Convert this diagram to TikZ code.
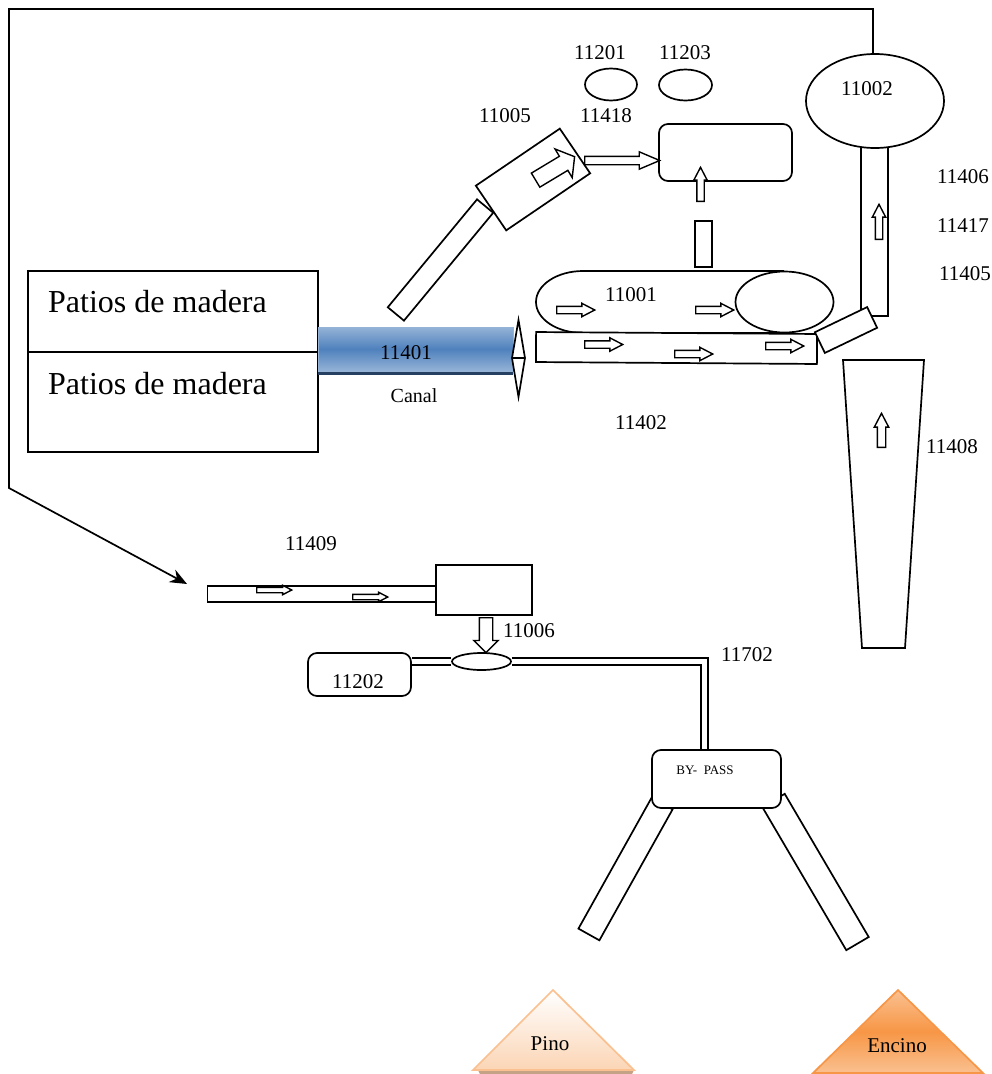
\documentclass[tikz,border=0pt]{standalone}
\usepackage{fontspec}
\setmainfont{Liberation Serif}
\usepackage{xcolor}
\usetikzlibrary{arrows.meta,positioning,shapes,calc}
\definecolor{ink}{HTML}{000000}
\definecolor{canalmid}{HTML}{4F81BD}
\definecolor{canalpale}{HTML}{95B3D7}
\definecolor{canaldark}{HTML}{254061}
\definecolor{pinoline}{HTML}{FAC090}
\definecolor{pinolow}{HTML}{FBD5B5}
\definecolor{pinoshadow}{HTML}{C4A285}
\definecolor{encinomid}{HTML}{F79646}
\tikzset{
  unitbox/.style={
    draw=ink, fill=white, line width=1.7pt, rectangle,
    inner sep=0pt
  },
  roundbox/.style={
    unitbox, rounded corners=9pt
  },
  vessel/.style={
    draw=ink, fill=white, line width=1.7pt, ellipse,
    inner sep=0pt
  },
  flowarrow/.style={
    single arrow, draw=ink, fill=white, line width=1.4pt, anchor=tail,
    inner xsep=0pt, inner ysep=3pt, minimum height=38pt,
    single arrow head extend=3pt, single arrow tip angle=55
  },
  tag/.style={
    inner sep=0pt, font=\fontsize{21}{25}\selectfont
  },
  yardtag/.style={
    inner sep=0pt, anchor=west, font=\fontsize{32}{38}\selectfont
  },
  pipeline/.style={
    draw=ink, line width=1.7pt, double=white, double distance=5pt
  }
}
\begin{document}
\begin{tikzpicture}[x=1pt,y=-1pt]
  \useasboundingbox (0,0) rectangle (992,1074);
  % yards and canal
  \node[unitbox,minimum width=290pt,minimum height=81pt] (yardtop) at (173,311.5) {};
  \node[unitbox,minimum width=290pt,minimum height=100pt] (yardlow) at (173,402) {};
  \node[yardtag] at (48,301.5) {Patios de madera};
  \node[yardtag] at (48,384) {Patios de madera};
  \fill[canaldark] (318,360) rectangle (513,375);
  \node[rectangle,inner sep=0pt,minimum width=195pt,minimum height=44pt,draw=canalpale,line width=1pt,
    top color=canalpale,bottom color=canalpale,middle color=canalmid] (canal) at (415.5,349) {};
  \node[tag] at (406,353) {11401};
  \node[tag,font=\fontsize{20}{24}\selectfont] at (414,396) {Canal};
  \draw[unitbox] (518.5,320) -- (525,358) -- (518.5,397) -- (512,358) -- cycle;
  \draw[ink,line width=1.2pt] (512,358) -- (525,358);
  % first conveyor and top box
  \node[unitbox,minimum width=140pt,minimum height=21pt,rotate=50.4] (feedbelt) at (440.5,260) {};
  \node[unitbox,minimum width=101.5pt,minimum height=54pt,rotate=34.2] (chipper) at (533,179.5) {};
  \node[flowarrow,inner ysep=7.5pt,minimum height=45.5pt,single arrow head extend=8.5pt,single arrow tip angle=105,rotate=31] (chiparrow) at (535,180.5) {};
  \node[roundbox,minimum width=133pt,minimum height=57pt] (tank) at (725.5,152.5) {};
  \node[flowarrow,inner ysep=3.5pt,minimum height=75pt,single arrow head extend=4.5pt,single arrow tip angle=46] (tankfeed) at (584,160.5) {};
  \node[flowarrow,minimum height=34pt,rotate=90] (tankrise) at (700.5,202) {};
  \node[unitbox,minimum width=17pt,minimum height=46pt] (risetube) at (703.5,244) {};
  \node[vessel,minimum width=52pt,minimum height=32pt] (v11201) at (611,84.5) {};
  \node[vessel,minimum width=53pt,minimum height=31pt] (v11203) at (685.5,85) {};
  % washer line
  \draw[ink,fill=white,line width=1.7pt] (784,271) -- (583,271)
    arc[start angle=90,end angle=270,x radius=47pt,y radius=31pt] -- (784,333);
  \node[vessel,minimum width=98pt,minimum height=61pt] (drum) at (784.5,302) {};
  \node[unitbox,minimum width=281pt,minimum height=30pt,rotate=-0.4] (lowbelt) at (676.5,348) {};
  \node[flowarrow] at (556,310) {};
  \node[flowarrow] at (695,310) {};
  \node[flowarrow] at (584,344.5) {};
  \node[flowarrow] at (674,354) {};
  \node[flowarrow] at (765,346) {};
  % right side
  \node[unitbox,minimum width=27pt,minimum height=170pt] (uptube) at (874.5,231) {};
  \node[vessel,minimum width=138pt,minimum height=94pt] (bin) at (875,101) {};
  \node[unitbox,minimum width=58pt,minimum height=23pt,rotate=25.7] (transfer) at (846,330) {};
  \node[flowarrow,minimum height=35pt,rotate=90] at (879,240) {};
  \draw[ink,line width=1.7pt] (843,360) -- (924,360) -- (905,648) -- (862,648) -- cycle;
  \node[flowarrow,minimum height=34pt,inner ysep=3.5pt,rotate=90] at (881.5,448) {};
  % return line
  \coordinate (returnend) at (187,584);
  \draw[ink,line width=1.7pt,-{Stealth[length=17pt,width=14pt]}] (873,54) -- (873,9) -- (9,9) -- (9,488) -- (returnend);
  % lower train
  \node[unitbox,minimum width=229pt,minimum height=16pt] (lowfeed) at (322,594) {};
  \node[unitbox,minimum width=96pt,minimum height=50pt] (press) at (484,590) {};
  \node[flowarrow,inner ysep=2pt,minimum height=35pt,single arrow head extend=2pt] at (256,590) {};
  \node[flowarrow,inner ysep=2pt,minimum height=35pt,single arrow head extend=2pt] at (352,597) {};
  \node[roundbox,minimum width=103pt,minimum height=43pt] (tap) at (359.5,674.5) {};
  \node[vessel,minimum width=59pt,minimum height=17pt] (valve) at (481.5,661.5) {};
  % by-pass legs
  \node[unitbox,minimum width=150pt,minimum height=24pt,rotate=60.8] (legpino) at (625.5,869) {};
  \node[unitbox,minimum width=166pt,minimum height=26pt,rotate=-59.6] (legencino) at (815.5,872) {};
  \node[roundbox,minimum width=129pt,minimum height=58pt] (bypass) at (716.5,779) {};
  \node[inner sep=0pt,font=\fontsize{13}{15}\selectfont] at (705,770) {BY-\ \ PASS};
  \coordinate (pipebend) at (704.5,661.5);
  \draw[pipeline] (valve.west) -- (valve.west -| tap.east);
  \draw[pipeline] (valve.east) -- (pipebend) -- (pipebend |- bypass.north);
  \node[flowarrow,inner ysep=6pt,minimum height=35pt,single arrow head extend=5.5pt,single arrow tip angle=90,rotate=-90] at (486,617) {};
  % product piles
  \fill[pinoshadow] (478,1070) -- (634,1070) -- (632,1074) -- (480,1074) -- cycle;
  \draw[draw=pinoline,line width=1.7pt,top color=white,bottom color=pinolow] (553,990) -- (634,1070) -- (473,1070) -- cycle;
  \draw[draw=encinomid,line width=1.7pt,top color=pinoline,bottom color=pinoline,middle color=encinomid] (898,990) -- (983,1073) -- (813,1073) -- cycle;
  \node[tag] at (550,1044) {Pino};
  \node[tag] at (897,1046) {Encino};
  % tags
  \node[tag] at (600,53) {11201};
  \node[tag] at (685,53) {11203};
  \node[tag] at (505,116) {11005};
  \node[tag] at (606,116) {11418};
  \node[tag] at (867,89) {11002};
  \node[tag] at (963,177) {11406};
  \node[tag] at (963,226) {11417};
  \node[tag] at (965,274) {11405};
  \node[tag] at (631,295) {11001};
  \node[tag] at (641,423) {11402};
  \node[tag] at (952,447) {11408};
  \node[tag] at (311,544) {11409};
  \node[tag] at (529,631) {11006};
  \node[tag] at (747,655) {11702};
  \node[tag] at (358,682) {11202};
\end{tikzpicture}
\end{document}
